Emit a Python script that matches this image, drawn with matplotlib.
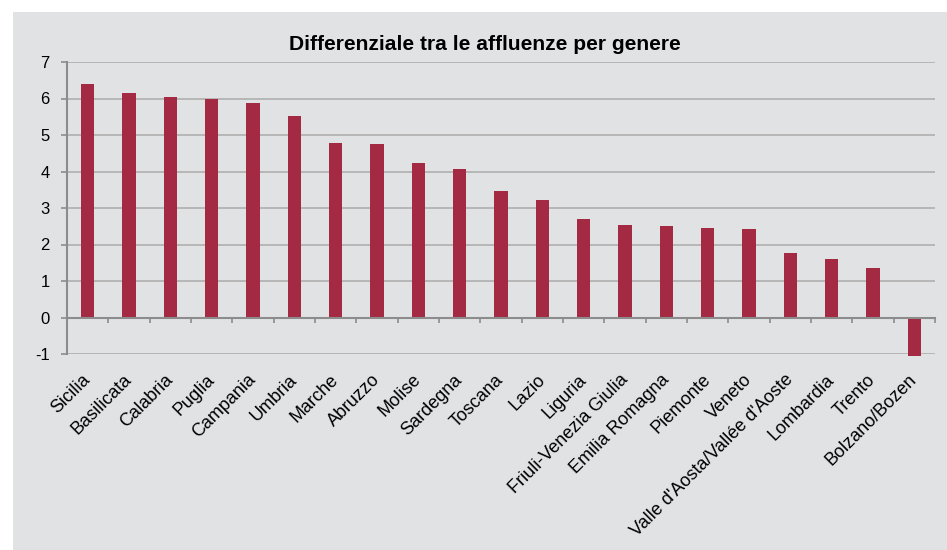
import matplotlib
matplotlib.use("Agg")
import matplotlib.pyplot as plt
from matplotlib.patches import Rectangle
from matplotlib.ticker import FixedLocator

# -----------------------------------------------------
# DONNÉES
# -----------------------------------------------------
regioni = [
    "Sicilia", "Basilicata", "Calabria", "Puglia", "Campania", "Umbria",
    "Marche", "Abruzzo", "Molise", "Sardegna", "Toscana", "Lazio", "Liguria",
    "Friuli-Venezia Giulia", "Emilia Romagna", "Piemonte", "Veneto",
    "Valle d'Aosta/Vallée d'Aoste", "Lombardia", "Trento", "Bolzano/Bozen",
]
differenziale = [
    6.39, 6.15, 6.04, 6.00, 5.87, 5.52,
    4.78, 4.74, 4.23, 4.07, 3.47, 3.21, 2.70,
    2.54, 2.51, 2.46, 2.43,
    1.77, 1.61, 1.36, -1.05,
]
y_ticks = [-1, 0, 1, 2, 3, 4, 5, 6, 7]

titolo = "Differenziale tra le affluenze per genere"

# -----------------------------------------------------
# STYLE
# -----------------------------------------------------
plt.rcParams["font.family"] = ["Liberation Sans", "DejaVu Sans"]
sfondo = "#e1e2e4"
col_barre = "#a42a43"
col_griglia = "#ababab"
col_assi = "#8c8c8c"

fig = plt.figure(figsize=(9.47, 5.5), dpi=100)
fig.patch.set_facecolor("white")
fig.patches.append(Rectangle((13 / 947, 0), 934 / 947, 1 - 12 / 550,
                             transform=fig.transFigure, facecolor=sfondo,
                             edgecolor="none", zorder=-10))

ax = fig.add_axes([67 / 947, 1 - 354 / 550, (935 - 67) / 947, 292 / 550])
ax.set_facecolor(sfondo)

x = list(range(len(regioni)))
barre = ax.bar(x, differenziale, width=0.32, color=col_barre, zorder=3)
for b in barre:
    b.set_clip_on(False)

ax.set_xlim(-0.5, len(regioni) - 0.5)
ax.set_ylim(y_ticks[0], y_ticks[-1])
ax.set_yticks(y_ticks)
ax.set_yticklabels([str(v) for v in y_ticks], fontsize=12)
ax.grid(axis="y", color=col_griglia, linewidth=1.1, zorder=1)
ax.grid(axis="x", visible=False)

for s in ["top", "right"]:
    ax.spines[s].set_visible(False)
ax.spines["left"].set_color(col_assi)
ax.spines["left"].set_linewidth(1.5)
ax.spines["bottom"].set_position(("data", 0))
ax.spines["bottom"].set_color(col_assi)
ax.spines["bottom"].set_linewidth(1.5)
ax.spines["bottom"].set_zorder(4)

ax.tick_params(axis="y", length=4.5, width=1.2, color=col_assi, pad=8)
ax.set_xticks(x)
ax.set_xticklabels(regioni, rotation=45, ha="right", va="center",
                   rotation_mode="anchor", fontsize=13)
ax.tick_params(axis="x", which="major", length=0, pad=43)
ax.xaxis.set_minor_locator(FixedLocator([i + 0.5 for i in x]))
ax.tick_params(axis="x", which="minor", length=3.5, width=1.2, color=col_assi)

fig.text(0.512, 1 - 44 / 550, titolo, ha="center", va="center",
         fontsize=15.1, fontweight="bold")

fig.savefig("out.png", dpi=100, facecolor=fig.get_facecolor())
